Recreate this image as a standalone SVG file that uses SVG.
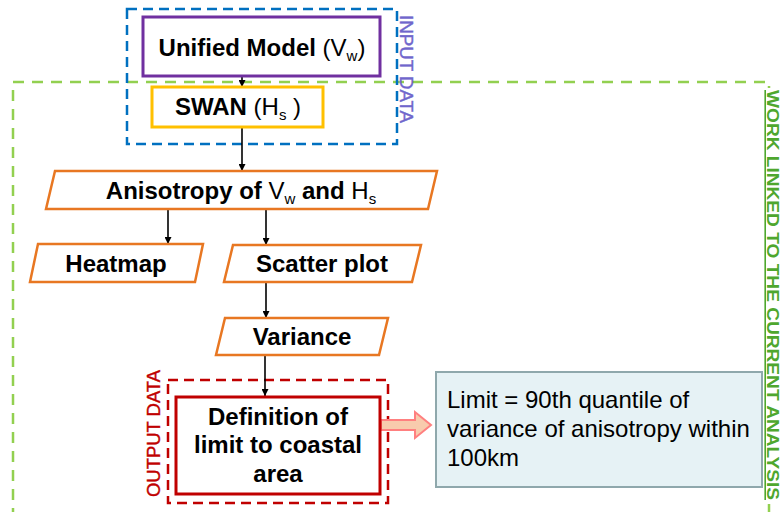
<svg xmlns="http://www.w3.org/2000/svg" width="783" height="512" viewBox="0 0 783 512">
<defs>
<style>
.lbl{font-family:"Liberation Sans",Arial,sans-serif;font-size:24px;fill:#000;text-anchor:middle}
.b{font-weight:bold}
.sub{font-size:15px}
.para{fill:#fff;stroke:#E87722;stroke-width:2.5}
.conn{stroke:#000;stroke-width:1.6;fill:none;marker-end:url(#ah)}
.info{font-family:"Liberation Sans",Arial,sans-serif;font-size:24px;fill:#000}
.side{font-family:"Liberation Sans",Arial,sans-serif;font-size:18px}
</style>
<marker id="ah" viewBox="0 0 10 10" refX="10" refY="5" markerWidth="7" markerHeight="7" markerUnits="userSpaceOnUse" orient="auto">
<path d="M0,0 L10,5 L0,10 z" fill="#000"/>
</marker>
</defs>
<rect width="783" height="512" fill="#fff"/>

<g id="work-region">
<rect x="13" y="82" width="756" height="460" fill="none" stroke="#92D050" stroke-width="2.5" stroke-dasharray="11 8"/>
<rect x="765" y="88" width="18" height="414" fill="#fff"/>
<text transform="translate(767,90) rotate(90)" class="side" style="font-size:16px" font-weight="bold" fill="#4EA72E" text-decoration="underline" textLength="410" lengthAdjust="spacingAndGlyphs">WORK LINKED TO THE CURRENT ANALYSIS</text>
</g>

<g id="input-data">
<rect x="127" y="9" width="270" height="135" fill="none" stroke="#0070C0" stroke-width="2.5" stroke-dasharray="10 6"/>
<text transform="translate(400,15) rotate(90)" class="side" fill="#7066CC" stroke="#7066CC" stroke-width="0.4" textLength="108" lengthAdjust="spacingAndGlyphs">INPUT DATA</text>
</g>

<g id="output-data">
<rect x="168" y="380" width="220" height="123" fill="none" stroke="#C00000" stroke-width="2.5" stroke-dasharray="10 6"/>
<text transform="translate(160,497) rotate(-90)" class="side" fill="#C00000" stroke="#C00000" stroke-width="0.4" textLength="127" lengthAdjust="spacingAndGlyphs">OUTPUT DATA</text>
</g>

<g id="connectors">
<line class="conn" x1="242" y1="76" x2="242" y2="87"/>
<line class="conn" x1="242" y1="127" x2="242" y2="171"/>
<line class="conn" x1="168" y1="209" x2="168" y2="244"/>
<line class="conn" x1="266" y1="209" x2="266" y2="245"/>
<line class="conn" x1="266" y1="282" x2="266" y2="318"/>
<line class="conn" x1="265" y1="355" x2="265" y2="396"/>
<path d="M381,420 L415,420 L415,412 L431,425 L415,438 L415,430 L381,430 Z" fill="#F8CBAD" stroke="#FF8080" stroke-width="2"/>
</g>

<g id="unified-model">
<rect x="143" y="17" width="237" height="59" fill="#fff" stroke="#7030A0" stroke-width="3"/>
<text class="lbl" x="262" y="56"><tspan class="b">Unified Model </tspan>(V<tspan class="sub" dy="5">w</tspan><tspan dy="-5">)</tspan></text>
</g>

<g id="swan">
<rect x="152" y="87" width="171" height="40" fill="#fff" stroke="#FFC000" stroke-width="3"/>
<text class="lbl" x="238" y="115"><tspan class="b">SWAN </tspan>(H<tspan class="sub" dy="5">s</tspan><tspan dy="-5"> )</tspan></text>
</g>

<g id="anisotropy">
<polygon class="para" points="55,171 437,171 428,209 46,209"/>
<text class="lbl" x="241" y="199"><tspan class="b">Anisotropy of </tspan>V<tspan class="sub" dy="5">w</tspan><tspan class="b" dy="-5"> and </tspan>H<tspan class="sub" dy="5">s</tspan></text>
</g>

<g id="heatmap">
<polygon class="para" points="38,244 203,244 195,282 30,282"/>
<text class="lbl b" x="116" y="272">Heatmap</text>
</g>

<g id="scatter-plot">
<polygon class="para" points="233,245 421,245 412,282 224,282"/>
<text class="lbl b" x="322" y="272">Scatter plot</text>
</g>

<g id="variance">
<polygon class="para" points="225,318 388,318 379,355 216,355"/>
<text class="lbl b" x="302" y="345">Variance</text>
</g>

<g id="definition">
<rect x="176" y="397" width="204" height="97" fill="#fff" stroke="#C00000" stroke-width="3"/>
<text class="lbl b" x="278" y="425">Definition of</text>
<text class="lbl b" x="278" y="453">limit to coastal</text>
<text class="lbl b" x="278" y="482">area</text>
</g>

<g id="limit-note">
<rect x="436" y="372" width="326" height="115" fill="#E6F2F5" stroke="#8FA8AC" stroke-width="2"/>
<text class="info" x="447" y="408">Limit = 90th quantile of</text>
<text class="info" x="447" y="437">variance of anisotropy within</text>
<text class="info" x="447" y="466">100km</text>
</g>
</svg>
